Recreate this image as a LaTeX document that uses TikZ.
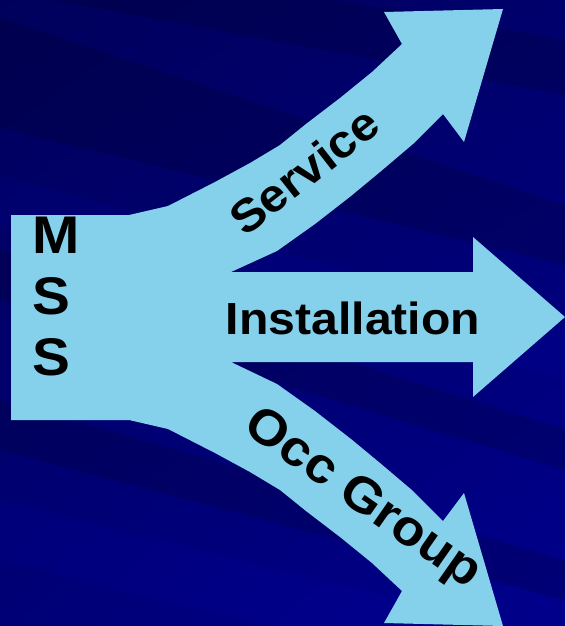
\documentclass[tikz,border=0pt]{standalone}
\usepackage{fontspec}
\usetikzlibrary{shadings}
\setmainfont{Liberation Sans}[FakeStretch=1.07]
\definecolor{arrowblue}{RGB}{133,209,235}
\definecolor{bgUL}{RGB}{0,0,92}
\definecolor{bgUR}{RGB}{0,0,108}
\definecolor{bgLL}{RGB}{0,0,118}
\definecolor{bgLR}{RGB}{0,0,140}
\begin{document}
\begin{tikzpicture}[x=1pt,y=-1pt,
  lbl/.style={inner sep=0pt, outer sep=0pt, text=black},
  stripedark/.style={fill=black, fill opacity=0.14},
  stripelight/.style={fill=blue, fill opacity=0.06}]
\useasboundingbox (0,0) rectangle (565,626);
% background
\shade[upper left=bgUL, upper right=bgUR, lower left=bgLL, lower right=bgLR] (0,0) rectangle (565,626);
\fill[stripedark] (0,18) -- (565,205) -- (565,265) -- (0,128) -- cycle;
\fill[stripedark] (0,-60) -- (565,40) -- (565,95) -- (0,-10) -- cycle;
\fill[stripelight] (0,175) -- (565,330) -- (565,380) -- (0,225) -- cycle;
\fill[stripedark] (0,250) -- (565,430) -- (565,470) -- (0,300) -- cycle;
\fill[stripedark] (0,400) -- (565,560) -- (565,600) -- (0,450) -- cycle;
\fill[stripelight] (0,500) -- (565,640) -- (565,700) -- (0,560) -- cycle;
% main shape
\fill[arrowblue] (11,215) -- (129,215) -- (168,206) -- (215,182) -- (250,163)
  -- (280,145) -- (306,124) -- (340,98) -- (372,72) -- (402,44) -- (384,12)
  -- (503,9) -- (464,142) -- (443,114) -- (413,144) -- (380,172) -- (351,196)
  -- (315,224) -- (277,251) -- (231,272) -- (473,272) -- (473,237) -- (565,317)
  -- (473,397) -- (473,362) -- (231,362) -- (277,384) -- (315,411) -- (351,439)
  -- (380,463) -- (413,491) -- (443,521) -- (464,493) -- (503,626) -- (384,623)
  -- (402,591) -- (372,563) -- (340,537) -- (306,511) -- (280,490) -- (250,472)
  -- (215,453) -- (168,429) -- (129,420) -- (11,420) -- cycle;
% labels
\node[lbl, font=\fontsize{53}{61}\selectfont\bfseries, align=left, anchor=north west] (mss) at (32.5,217) {M\\S\\S};
\node[lbl, font=\fontsize{45}{50}\selectfont\bfseries, anchor=base] (inst) at (353,334) {Installation};
\node[lbl, font=\fontsize{46}{50}\selectfont\bfseries, rotate=38] (serv) at (304,171) {Service};
\node[lbl, font=\fontsize{50}{54}\selectfont\bfseries, rotate=-35] (occ) at (362,500) {Occ Group};
\end{tikzpicture}
\end{document}
